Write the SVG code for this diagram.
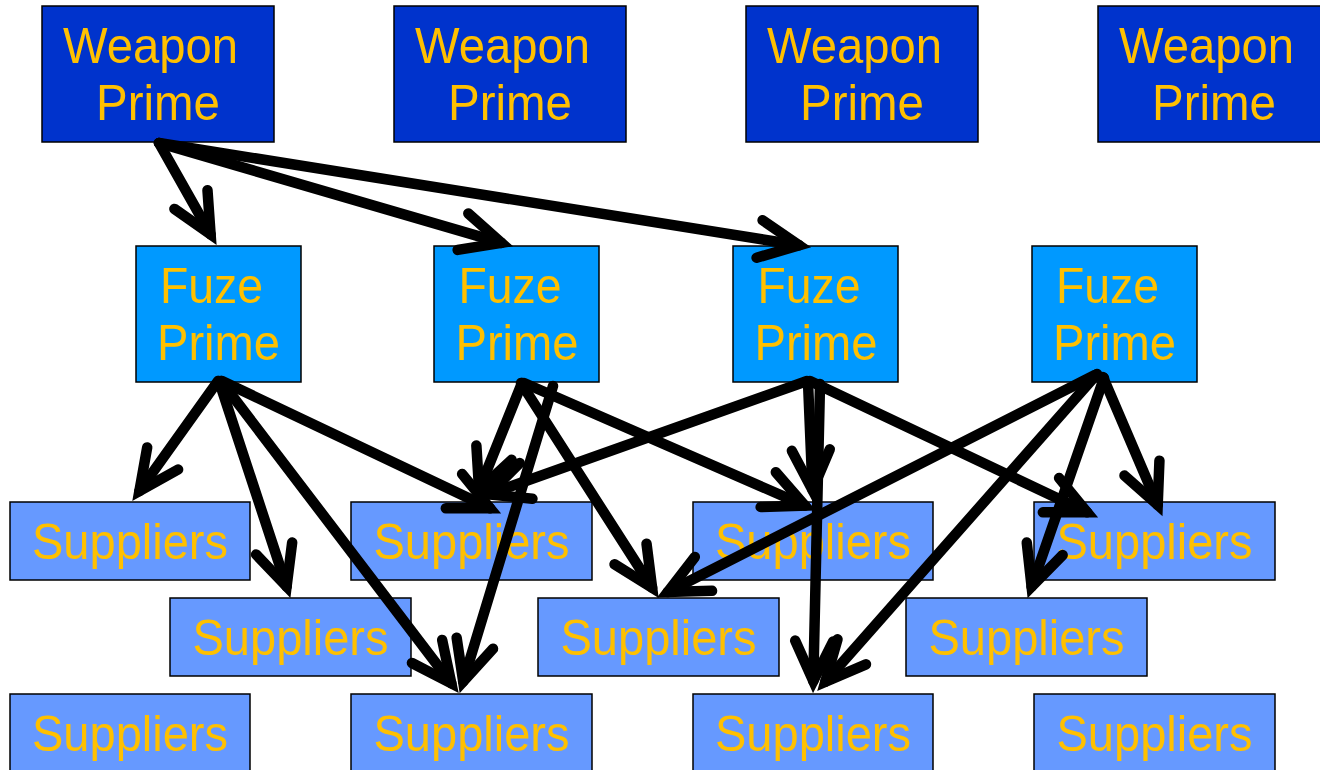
<svg xmlns="http://www.w3.org/2000/svg" width="1320" height="770" viewBox="0 0 1320 770">
  <style>
    .weapon { fill: #0033CC; stroke: #000; stroke-width: 1.5; }
    .fuze { fill: #0099FF; stroke: #000; stroke-width: 1.5; }
    .sup { fill: #6699FF; stroke: #000; stroke-width: 1.5; }
    .lbl { font-family: "Liberation Sans", Arial, sans-serif; font-size: 50px; fill: #FFC000; text-anchor: middle; }
    .c { fill: none; stroke: #000; stroke-width: 10.5; stroke-linecap: round; marker-end: url(#ah); }
  </style>
  <defs>
    <marker id="ah" markerUnits="userSpaceOnUse" viewBox="-50 -30 70 60" refX="0" refY="0" markerWidth="70" markerHeight="60" orient="auto" overflow="visible">
      <path d="M-40,-19 L0,0 L-40,19" fill="none" stroke="#000" stroke-width="10.5" stroke-linecap="round" stroke-linejoin="miter"/>
    </marker>
  </defs>
  <rect width="1320" height="770" fill="#fff"/>

  <!-- Weapon primes -->
  <g id="weapon1"><rect class="weapon" x="42" y="6" width="232" height="136"/><text class="lbl" x="150.5" y="63" textLength="175" lengthAdjust="spacingAndGlyphs">Weapon</text><text class="lbl" x="158" y="120" textLength="124" lengthAdjust="spacingAndGlyphs">Prime</text></g>
  <g id="weapon2"><rect class="weapon" x="394" y="6" width="232" height="136"/><text class="lbl" x="502.5" y="63" textLength="175" lengthAdjust="spacingAndGlyphs">Weapon</text><text class="lbl" x="510" y="120" textLength="124" lengthAdjust="spacingAndGlyphs">Prime</text></g>
  <g id="weapon3"><rect class="weapon" x="746" y="6" width="232" height="136"/><text class="lbl" x="854.5" y="63" textLength="175" lengthAdjust="spacingAndGlyphs">Weapon</text><text class="lbl" x="862" y="120" textLength="124" lengthAdjust="spacingAndGlyphs">Prime</text></g>
  <g id="weapon4"><rect class="weapon" x="1098" y="6" width="232" height="136"/><text class="lbl" x="1206.5" y="63" textLength="175" lengthAdjust="spacingAndGlyphs">Weapon</text><text class="lbl" x="1214" y="120" textLength="124" lengthAdjust="spacingAndGlyphs">Prime</text></g>

  <!-- Fuze primes -->
  <g id="fuze1"><rect class="fuze" x="136" y="246" width="165" height="136"/><text class="lbl" x="211.5" y="303" textLength="103" lengthAdjust="spacingAndGlyphs">Fuze</text><text class="lbl" x="218.5" y="360" textLength="123" lengthAdjust="spacingAndGlyphs">Prime</text></g>
  <g id="fuze2"><rect class="fuze" x="434" y="246" width="165" height="136"/><text class="lbl" x="510" y="303" textLength="103" lengthAdjust="spacingAndGlyphs">Fuze</text><text class="lbl" x="517" y="360" textLength="123" lengthAdjust="spacingAndGlyphs">Prime</text></g>
  <g id="fuze3"><rect class="fuze" x="733" y="246" width="165" height="136"/><text class="lbl" x="809" y="303" textLength="103" lengthAdjust="spacingAndGlyphs">Fuze</text><text class="lbl" x="816" y="360" textLength="123" lengthAdjust="spacingAndGlyphs">Prime</text></g>
  <g id="fuze4"><rect class="fuze" x="1032" y="246" width="165" height="136"/><text class="lbl" x="1107.5" y="303" textLength="103" lengthAdjust="spacingAndGlyphs">Fuze</text><text class="lbl" x="1114.5" y="360" textLength="123" lengthAdjust="spacingAndGlyphs">Prime</text></g>

  <!-- Suppliers, row 1 -->
  <g id="sup-r1-1"><rect class="sup" x="10" y="502" width="240" height="78"/><text class="lbl" x="130" y="559" textLength="196" lengthAdjust="spacingAndGlyphs">Suppliers</text></g>
  <g id="sup-r1-2"><rect class="sup" x="351" y="502" width="241" height="78"/><text class="lbl" x="471.5" y="559" textLength="196" lengthAdjust="spacingAndGlyphs">Suppliers</text></g>
  <g id="sup-r1-3"><rect class="sup" x="693" y="502" width="240" height="78"/><text class="lbl" x="813" y="559" textLength="196" lengthAdjust="spacingAndGlyphs">Suppliers</text></g>
  <g id="sup-r1-4"><rect class="sup" x="1034" y="502" width="241" height="78"/><text class="lbl" x="1154.5" y="559" textLength="196" lengthAdjust="spacingAndGlyphs">Suppliers</text></g>
  <!-- Suppliers, row 2 -->
  <g id="sup-r2-1"><rect class="sup" x="170" y="598" width="241" height="78"/><text class="lbl" x="290.5" y="655" textLength="196" lengthAdjust="spacingAndGlyphs">Suppliers</text></g>
  <g id="sup-r2-2"><rect class="sup" x="538" y="598" width="241" height="78"/><text class="lbl" x="658.5" y="655" textLength="196" lengthAdjust="spacingAndGlyphs">Suppliers</text></g>
  <g id="sup-r2-3"><rect class="sup" x="906" y="598" width="241" height="78"/><text class="lbl" x="1026.5" y="655" textLength="196" lengthAdjust="spacingAndGlyphs">Suppliers</text></g>
  <!-- Suppliers, row 3 -->
  <g id="sup-r3-1"><rect class="sup" x="10" y="694" width="240" height="78"/><text class="lbl" x="130" y="751" textLength="196" lengthAdjust="spacingAndGlyphs">Suppliers</text></g>
  <g id="sup-r3-2"><rect class="sup" x="351" y="694" width="241" height="78"/><text class="lbl" x="471.5" y="751" textLength="196" lengthAdjust="spacingAndGlyphs">Suppliers</text></g>
  <g id="sup-r3-3"><rect class="sup" x="693" y="694" width="240" height="78"/><text class="lbl" x="813" y="751" textLength="196" lengthAdjust="spacingAndGlyphs">Suppliers</text></g>
  <g id="sup-r3-4"><rect class="sup" x="1034" y="694" width="241" height="78"/><text class="lbl" x="1154.5" y="751" textLength="196" lengthAdjust="spacingAndGlyphs">Suppliers</text></g>

  <!-- Connectors -->
  <g id="connectors">
    <!-- weapon prime 1 to fuze primes -->
    <line class="c" x1="159" y1="143" x2="210.6" y2="234.4"/>
    <line class="c" x1="159" y1="143" x2="501.4" y2="242.9"/>
    <line class="c" x1="159" y1="143" x2="799.1" y2="245.3"/>
    <!-- fuze prime 1 -->
    <line class="c" x1="218" y1="381" x2="139.4" y2="491"/>
    <line class="c" x1="219" y1="381" x2="286.6" y2="586.5"/>
    <line class="c" x1="221" y1="381" x2="451.3" y2="683.3"/>
    <line class="c" x1="222" y1="381" x2="490.1" y2="508.3"/>
    <!-- fuze prime 2 -->
    <line class="c" x1="522" y1="383" x2="479.1" y2="489.8"/>
    <line class="c" x1="553" y1="386" x2="463.2" y2="681.5"/>
    <line class="c" x1="521" y1="383" x2="652.1" y2="587.7"/>
    <line class="c" x1="524" y1="383" x2="804.9" y2="505.6"/>
    <!-- fuze prime 3 -->
    <line class="c" x1="807" y1="381" x2="488.4" y2="494.3"/>
    <line class="c" x1="808" y1="382" x2="812.5" y2="490"/>
    <line class="c" x1="820" y1="384" x2="813.3" y2="681"/>
    <line class="c" x1="810" y1="381" x2="1087.1" y2="512.3"/>
    <!-- fuze prime 4 -->
    <line class="c" x1="1095" y1="375" x2="667.8" y2="592"/>
    <line class="c" x1="1097" y1="374" x2="825.3" y2="681.8"/>
    <line class="c" x1="1104" y1="378" x2="1031.6" y2="586.6"/>
    <line class="c" x1="1103" y1="377" x2="1157.7" y2="504.9"/>
  </g>
</svg>
